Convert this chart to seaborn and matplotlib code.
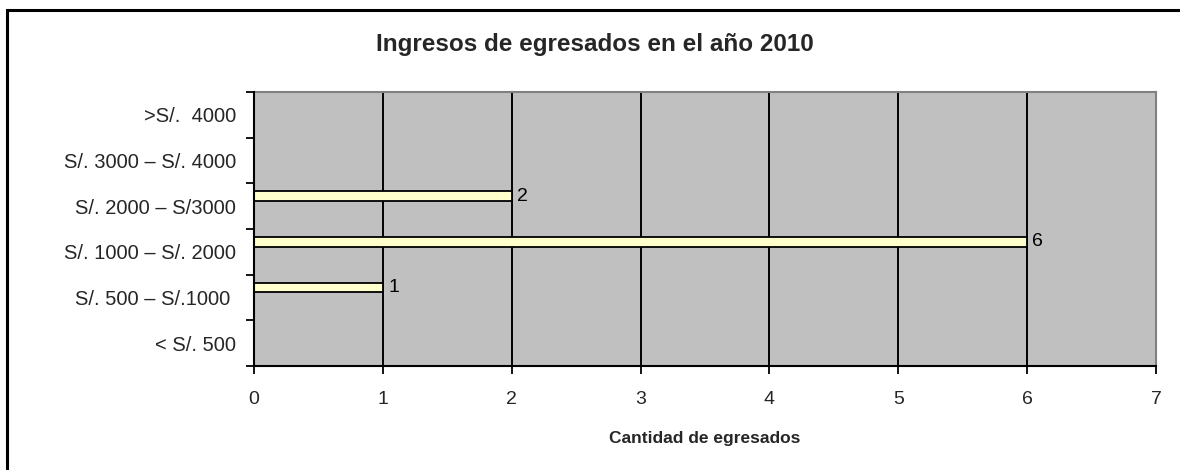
import matplotlib
matplotlib.use("Agg")
import matplotlib.pyplot as plt
import matplotlib.patches as mpatches
import seaborn as sns
import pandas as pd

categories = [">S/.  4000", "S/. 3000 – S/. 4000", "S/. 2000 – S/3000",
              "S/. 1000 – S/. 2000", "S/. 500 – S/.1000 ", "< S/. 500"]
values = [0, 0, 2, 6, 1, 0]
title = "Ingresos de egresados en el año 2010"
xlabel = "Cantidad de egresados"
xticks = [0, 1, 2, 3, 4, 5, 6, 7]

sns.set_theme(style="white")
plt.rcParams['font.family'] = ['Liberation Sans', 'DejaVu Sans']

df = pd.DataFrame({"cat": categories, "val": values})

fig = plt.figure(figsize=(11.8, 4.7), dpi=100)
ax = fig.add_axes([254/1180, 1-366/470, (1156-254)/1180, (366-92)/470])
ax.set_facecolor("#C0C0C0")

bar_w = 0.21
shift = 0.22
sns.barplot(data=df, x="val", y="cat", orient="h", order=categories,
            color="#FFFFCC", saturation=1, width=bar_w, edgecolor="black",
            linewidth=1.3, ax=ax, zorder=3)

for p, v in zip(ax.patches, values):
    p.set_y(p.get_y() - shift)
    if v == 0:
        p.set_visible(False)
    else:
        ax.text(v + 0.04, p.get_y() + p.get_height()/2, str(v),
                va="center", ha="left", fontsize=14, color="black", zorder=4)

ax.set_xlim(0, 7)
ax.set_ylim(len(categories) - 0.5, -0.5)
ax.set_xticks(xticks)
ax.set_xticklabels([str(t) for t in xticks], fontsize=14)
for x in xticks[1:-1]:
    ax.axvline(x, color="black", lw=1.4, zorder=2)

# category ticks at boundaries, labels at centers
ax.set_yticks([i - 0.5 for i in range(len(categories) + 1)])
ax.set_yticklabels([])
ax.set_yticks(range(len(categories)), minor=True)
ax.set_yticklabels(categories, minor=True, fontsize=14.5)
ax.tick_params(axis="y", which="major", length=6, width=1.3, color="black", direction="out", left=True)
ax.tick_params(axis="y", which="minor", length=0, pad=13)
ax.tick_params(axis="x", which="major", length=6, width=1.3, color="black", direction="out", bottom=True, pad=12)

ax.set_xlabel("")
ax.set_ylabel("")
for s in ["left", "bottom"]:
    ax.spines[s].set_color("black")
    ax.spines[s].set_linewidth(1.5)
    ax.spines[s].set_zorder(5)
for s in ["top", "right"]:
    ax.spines[s].set_color("#808080")
    ax.spines[s].set_linewidth(1.5)
    ax.spines[s].set_visible(True)

fig.text(595/1180, 1-45/470, title, ha="center", va="center", fontsize=17.5, fontweight="bold")
fig.text(705/1180, 1-438/470, xlabel, ha="center", va="center", fontsize=12.5, fontweight="bold")

fig.patches.append(mpatches.Rectangle((7/1180, -0.1), 1.2, 1 - 10/470 + 0.1,
                   transform=fig.transFigure, fill=False, edgecolor="black", lw=2.2))

fig.savefig("out.png", dpi=100)
